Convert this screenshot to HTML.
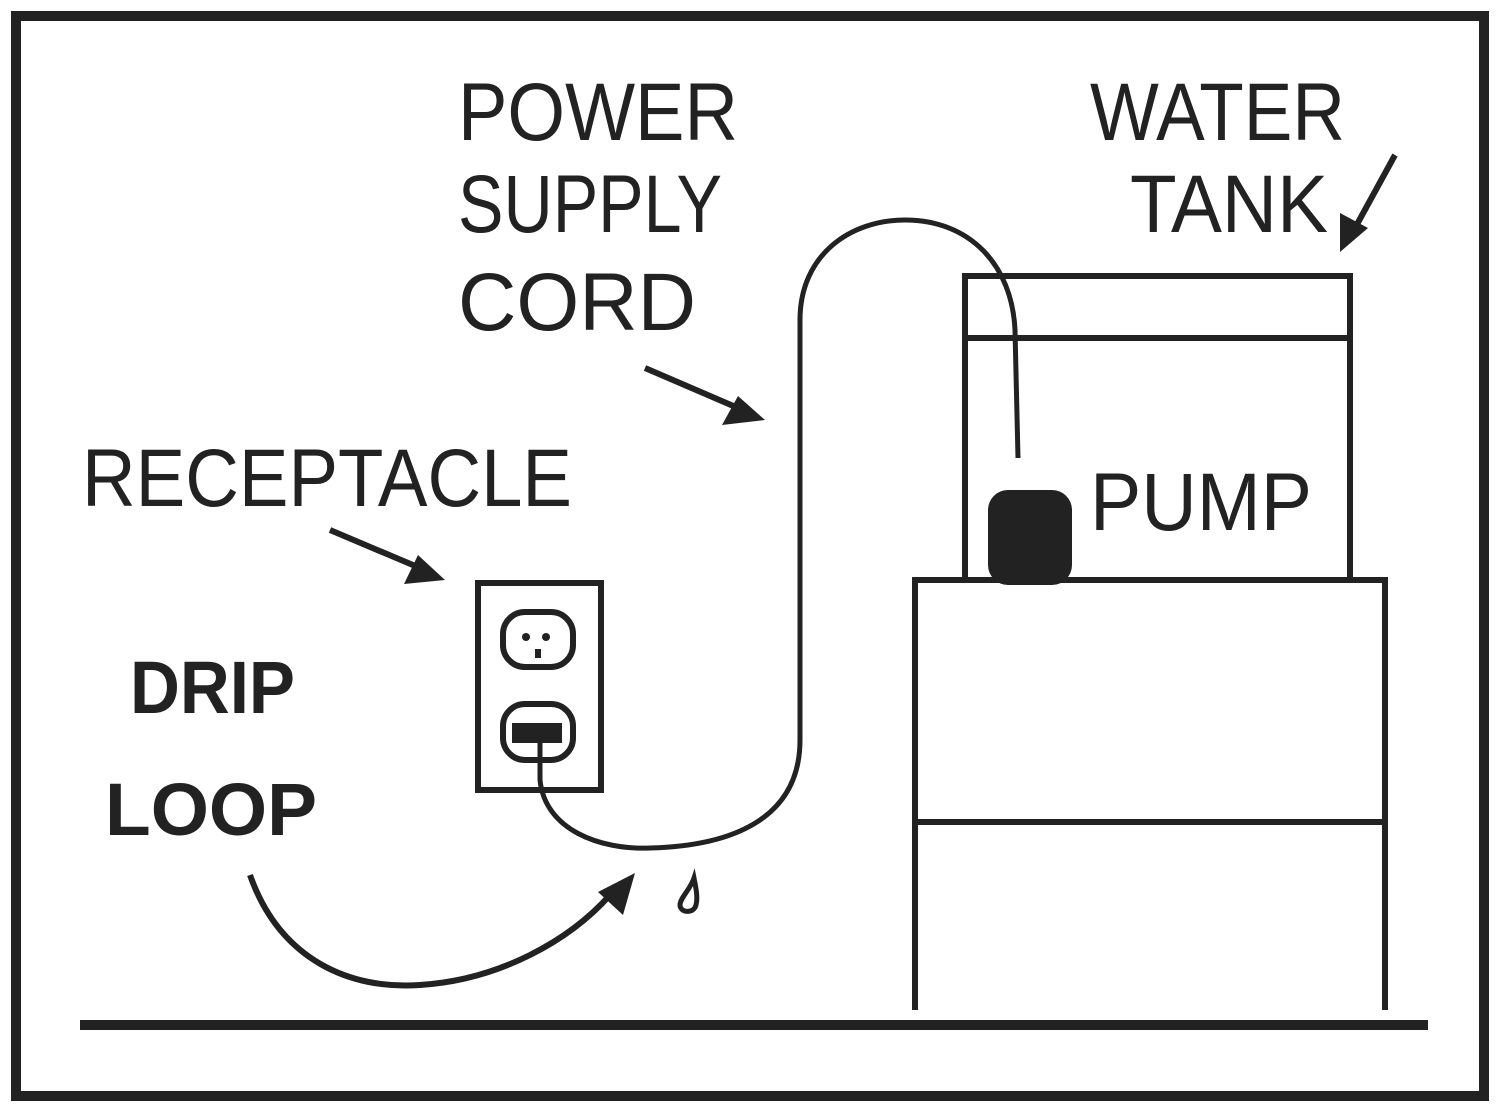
<!DOCTYPE html>
<html><head><meta charset="utf-8"><style>
html,body{margin:0;padding:0;background:#fff;}
svg{display:block;}
text{font-family:"Liberation Sans","DejaVu Sans",sans-serif;fill:#222;}
</style></head><body>
<svg width="1500" height="1111" viewBox="0 0 1500 1111" xmlns="http://www.w3.org/2000/svg">
<defs>
<marker id="ah" markerWidth="10" markerHeight="10" refX="6" refY="5" orient="auto" markerUnits="userSpaceOnUse" viewBox="0 0 10 10">
</marker>
</defs>
<rect x="16" y="16" width="1468" height="1080" fill="none" stroke="#222" stroke-width="10"/>
<line x1="80" y1="1025" x2="1428" y2="1025" stroke="#222" stroke-width="10"/>
<g stroke="#222" fill="none" stroke-width="6">
<!-- tank -->
<rect x="965" y="276" width="385" height="304"/>
<line x1="965" y1="338" x2="1350" y2="338"/>
<!-- cabinet -->
<polyline points="915,1010 915,580 1385,580 1385,1010"/>
<line x1="915" y1="822" x2="1385" y2="822"/>
<!-- outlet -->
<rect x="478" y="583" width="123" height="207"/>
<rect x="503" y="612" width="70" height="55" rx="22"/>
<rect x="503" y="704" width="70" height="56" rx="22"/>
<!-- cord -->
<path d="M540,742 L540,780 C545,830 600,850 650,848 C730,846 800,820 800,740 L800,320 C800,255 850,220 905,220 C970,220 1012,265 1015,330 L1018,458" stroke-width="5"/>
<!-- arrows -->
<line x1="645" y1="368" x2="738" y2="408"/>
<line x1="330" y1="530" x2="420" y2="568"/>
<line x1="1395" y1="155" x2="1355" y2="228"/>
<path d="M250,875 C280,960 350,990 420,985 C500,980 570,940 610,895"/>
<!-- drop -->
<path d="M694,878 C690,890 680,898 680,905 C680,913 694,914 696,905 C698,898 696,888 694,878 Z" stroke-width="5"/>
</g>
<g fill="#222">
<circle cx="526" cy="637" r="4"/><circle cx="546" cy="637" r="4"/>
<rect x="535" y="649" width="6" height="9"/>
<rect x="512" y="723" width="50" height="20"/>
<rect x="988" y="490" width="84" height="95" rx="20"/>
<polygon points="765,420 722,425 738,396"/>
<polygon points="445,580 404,584 418,555"/>
<polygon points="1340,252 1340,213 1368,228"/>
<polygon points="635,873 623,915 598,892"/>
</g>
<text x="458" y="140" font-size="82" textLength="280" lengthAdjust="spacingAndGlyphs">POWER</text>
<text x="458" y="232" font-size="82" textLength="264" lengthAdjust="spacingAndGlyphs">SUPPLY</text>
<text x="458" y="330" font-size="82" textLength="238" lengthAdjust="spacingAndGlyphs">CORD</text>
<text x="1090" y="140" font-size="82" textLength="255" lengthAdjust="spacingAndGlyphs">WATER</text>
<text x="1130" y="232" font-size="82" textLength="198" lengthAdjust="spacingAndGlyphs">TANK</text>
<text x="82" y="506" font-size="82" textLength="490" lengthAdjust="spacingAndGlyphs">RECEPTACLE</text>
<text x="1090" y="530" font-size="82" textLength="222" lengthAdjust="spacingAndGlyphs">PUMP</text>
<text x="130" y="713" font-size="74" font-weight="bold" textLength="165" lengthAdjust="spacingAndGlyphs">DRIP</text>
<text x="105" y="835" font-size="74" font-weight="bold" textLength="212" lengthAdjust="spacingAndGlyphs">LOOP</text>
</svg>
</body></html>
